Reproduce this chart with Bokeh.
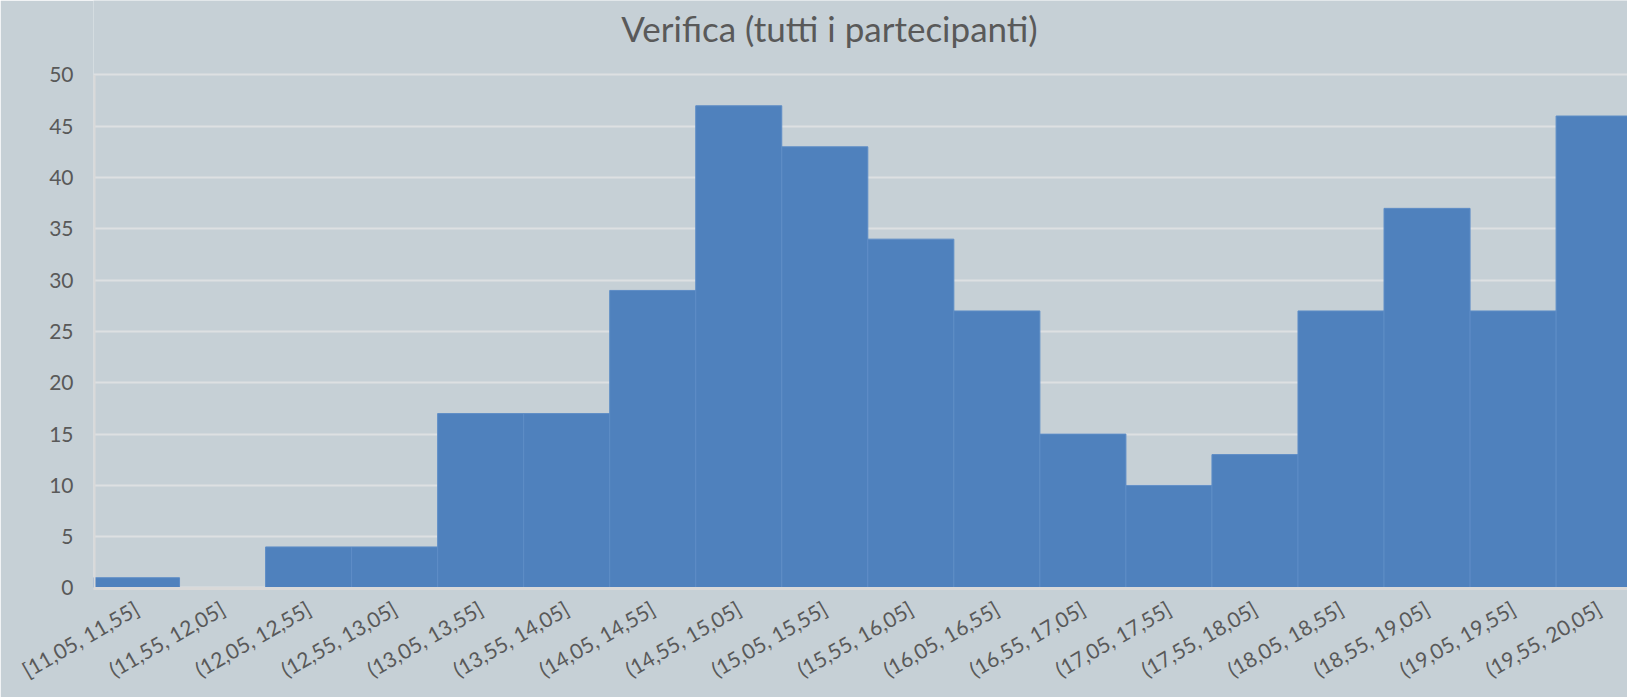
from bokeh.plotting import figure
from bokeh.models import Range1d, FixedTicker, Label
from bokeh.embed import file_html
from bokeh.resources import INLINE

title_text = "Verifica (tutti i partecipanti)"
categories = ["[11,05, 11,55]", "(11,55, 12,05]", "(12,05, 12,55]", "(12,55, 13,05]",
              "(13,05, 13,55]", "(13,55, 14,05]", "(14,05, 14,55]", "(14,55, 15,05]",
              "(15,05, 15,55]", "(15,55, 16,05]", "(16,05, 16,55]", "(16,55, 17,05]",
              "(17,05, 17,55]", "(17,55, 18,05]", "(18,05, 18,55]", "(18,55, 19,05]",
              "(19,05, 19,55]", "(19,55, 20,05]"]
counts = [1, 0, 4, 4, 17, 17, 29, 47, 43, 34, 27, 15, 10, 13, 27, 37, 27, 46]
y_ticks = [0, 5, 10, 15, 20, 25, 30, 35, 40, 45, 50]

BG = "#C6D0D6"
TXT = "#595959"
AXIS = "#D9D9D9"
FONT = "Lato"

left_edges = list(range(len(categories)))
right_edges = [i + 1 for i in left_edges]
centers = [i + 0.5 for i in left_edges]

# frame spans from the canvas top down to the zero line; the title lives inside it
p = figure(width=1627, height=697, output_backend="svg", toolbar_location=None,
           x_range=Range1d(0, 17.83), y_range=Range1d(-0.05, 57.26),
           min_border_left=93, min_border_right=0, min_border_bottom=109, min_border_top=0)

p.quad(left=left_edges, right=right_edges, bottom=0, top=counts,
       fill_color="#4F81BD", line_color="#5E8DC6", line_width=1)

# value axis line (only up to the top tick, as in the reference)
p.segment(x0=[0], y0=[0], x1=[0], y1=[y_ticks[-1]], line_color=AXIS, line_width=4)

p.background_fill_color = BG
p.border_fill_color = BG
p.outline_line_color = None

p.add_layout(Label(text=title_text, x=736, y=561, x_units="screen", y_units="screen",
                   text_align="center", text_baseline="middle",
                   text_font=FONT, text_font_size="35px", text_color=TXT))

p.xgrid.visible = False
p.ygrid.ticker = FixedTicker(ticks=y_ticks)
p.ygrid.grid_line_color = "#DDE0E2"
p.ygrid.grid_line_width = 2

p.yaxis.ticker = FixedTicker(ticks=y_ticks)
p.yaxis.major_tick_line_color = None
p.yaxis.minor_tick_line_color = None
p.yaxis.axis_line_color = None
p.yaxis.major_label_text_font = FONT
p.yaxis.major_label_text_font_size = "21px"
p.yaxis.major_label_text_color = TXT
p.yaxis.major_label_standoff = 14

p.xaxis.ticker = FixedTicker(ticks=centers)
p.xaxis.major_label_overrides = {c: lab for c, lab in zip(centers, categories)}
p.xaxis.major_tick_line_color = None
p.xaxis.minor_tick_line_color = None
p.xaxis.axis_line_color = AXIS
p.xaxis.axis_line_width = 3
p.xaxis.major_label_text_font = FONT
p.xaxis.major_label_text_font_size = "21px"
p.xaxis.major_label_text_color = TXT
p.xaxis.major_label_orientation = 0.52
p.xaxis.major_label_standoff = 12

open("out.html", "w").write(file_html(p, INLINE))
